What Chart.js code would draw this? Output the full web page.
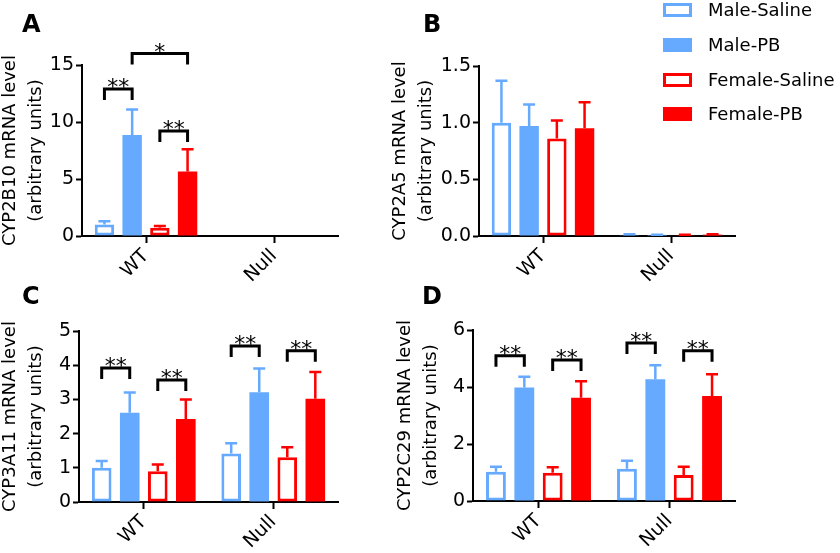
<!DOCTYPE html>
<html>
<head>
<meta charset="utf-8">
<script src="https://cdn.jsdelivr.net/npm/chart.js@4"></script>
<style>
body { margin:0; width:840px; height:553px; position:relative; overflow:hidden; background:#fff; font-family:"DejaVu Sans", sans-serif; color:#000; }
canvas { position:absolute; }
.letter { position:absolute; font:bold 24px/24px "DejaVu Sans", sans-serif; }
.item { position:absolute; left:663px; height:14px; white-space:nowrap; font:18px/18px "DejaVu Sans", sans-serif; }
.box { position:absolute; left:0; top:0; width:29px; height:14px; box-sizing:border-box; }
.item span { position:absolute; left:45px; top:-2px; }
</style>
</head>
<body>
<canvas id="chartA" width="400" height="300" style="left:-3px;top:0"></canvas>
<canvas id="chartB" width="453" height="300" style="left:387px;top:0"></canvas>
<canvas id="chartC" width="400" height="273" style="left:-3px;top:280px"></canvas>
<canvas id="chartD" width="448" height="273" style="left:392px;top:280px"></canvas>

<div class="letter" style="left:22px;top:12px">A</div>
<div class="letter" style="left:423px;top:12px">B</div>
<div class="letter" style="left:22px;top:284px">C</div>
<div class="letter" style="left:422px;top:284px">D</div>

<div class="item" style="top:3px"><div class="box" style="border:3px solid #66aaff;background:#fff"></div><span>Male-Saline</span></div>
<div class="item" style="top:38px"><div class="box" style="background:#66aaff"></div><span>Male-PB</span></div>
<div class="item" style="top:73px"><div class="box" style="border:3px solid #ff0000;background:#fff"></div><span>Female-Saline</span></div>
<div class="item" style="top:107px"><div class="box" style="background:#ff0000"></div><span>Female-PB</span></div>

<script>
Chart.defaults.font.family = '"DejaVu Sans", sans-serif';
Chart.defaults.color = '#000';

const groups = ['WT', 'Null'];
const seriesNames = ['Male-Saline', 'Male-PB', 'Female-Saline', 'Female-PB'];

// rows follow seriesNames, columns follow groups
const cyp2b10Mean = [[1.00, 0], [8.85, 0], [0.72, 0], [5.65, 0]];
const cyp2b10Sem  = [[0.30, 0], [2.25, 0], [0.15, 0], [1.95, 0]];
const cyp2b10Ticks = [0, 5, 10, 15];

const cyp2a5Mean = [[1.00, 0.012], [0.97, 0.010], [0.86, 0.008], [0.95, 0.012]];
const cyp2a5Sem  = [[0.37, 0.003], [0.19, 0.002], [0.16, 0.002], [0.23, 0.003]];
const cyp2a5Ticks = [0, 0.5, 1.0, 1.5];

const cyp3a11Mean = [[1.00, 1.42], [2.61, 3.21], [0.90, 1.31], [2.43, 3.02]];
const cyp3a11Sem  = [[0.20, 0.30], [0.59, 0.69], [0.20, 0.29], [0.57, 0.78]];
const cyp3a11Ticks = [0, 1, 2, 3, 4, 5];

const cyp2c29Mean = [[1.03, 1.13], [3.98, 4.27], [0.99, 0.91], [3.62, 3.68]];
const cyp2c29Sem  = [[0.17, 0.28], [0.38, 0.49], [0.19, 0.29], [0.58, 0.77]];
const cyp2c29Ticks = [0, 2, 4, 6];

// significance brackets: [group, from series, to series, level, label]
const cyp2b10Sig = [[0, 0, 1, 12.9, '**'], [0, 2, 3, 9.2, '**'], [0, 1, 3, 16.0, '*']];
const cyp2a5Sig = [];
const cyp3a11Sig = [[0, 0, 1, 3.92, '**'], [0, 2, 3, 3.57, '**'], [1, 0, 1, 4.56, '**'], [1, 2, 3, 4.42, '**']];
const cyp2c29Sig = [[0, 0, 1, 5.10, '**'], [0, 2, 3, 4.95, '**'], [1, 0, 1, 5.54, '**'], [1, 2, 3, 5.27, '**']];

const lineColors = ['#66aaff', '#66aaff', '#ff0000', '#ff0000'];
const fillColors = ['#ffffff', '#66aaff', '#ffffff', '#ff0000'];

const extras = {
  id: 'extras',
  afterDatasetsDraw(chart, args, opts) {
    const ctx = chart.ctx, y = chart.scales.y;
    ctx.save();
    ctx.lineWidth = 2.5;
    opts.sems.forEach((row, i) => {
      const meta = chart.getDatasetMeta(i);
      ctx.strokeStyle = lineColors[i];
      row.forEach((e, j) => {
        if (!e) return;
        const bar = meta.data[j];
        const top = y.getPixelForValue(opts.means[i][j] + e);
        ctx.beginPath();
        ctx.moveTo(bar.x, bar.y);
        ctx.lineTo(bar.x, top);
        ctx.moveTo(bar.x - 6, top);
        ctx.lineTo(bar.x + 6, top);
        ctx.stroke();
      });
    });
    ctx.strokeStyle = '#000';
    ctx.fillStyle = '#000';
    ctx.lineWidth = 3;
    ctx.font = '22px "DejaVu Sans", sans-serif';
    ctx.textAlign = 'center';
    opts.sig.forEach(([g, a, b, v, label]) => {
      const x1 = chart.getDatasetMeta(a).data[g].x;
      const x2 = chart.getDatasetMeta(b).data[g].x;
      const py = y.getPixelForValue(v);
      ctx.beginPath();
      ctx.moveTo(x1, py + 11);
      ctx.lineTo(x1, py);
      ctx.lineTo(x2, py);
      ctx.lineTo(x2, py + 11);
      ctx.stroke();
      ctx.fillText(label, (x1 + x2) / 2, py + 5);
    });
    ctx.restore();
  }
};

function panel(id, g, title, means, sems, sig, ticks, dec) {
  return new Chart(document.getElementById(id), {
    type: 'bar',
    data: {
      labels: groups,
      datasets: seriesNames.map((name, i) => ({
        label: name,
        data: means[i],
        backgroundColor: fillColors[i],
        borderColor: lineColors[i],
        borderWidth: i % 2 ? 0 : 3,
        borderSkipped: false,
        categoryPercentage: 0.866,
        barPercentage: 0.7
      }))
    },
    options: {
      responsive: false,
      animation: false,
      layout: { padding: { left: 0, top: g.top, right: g.right, bottom: 0 } },
      plugins: {
        legend: { display: false },
        tooltip: { enabled: false },
        extras: { means: means, sems: sems, sig: sig }
      },
      scales: {
        x: {
          z: 1,
          grid: { offset: false, drawOnChartArea: false, tickLength: 7, tickWidth: 2, tickColor: '#000' },
          border: { color: '#000', width: 2 },
          ticks: { maxRotation: 45, minRotation: 45, padding: 2, font: { size: 19 } },
          afterFit: s => { s.height = g.xh; }
        },
        y: {
          min: ticks[0],
          max: ticks[ticks.length - 1],
          grid: { drawOnChartArea: false, tickLength: 6, tickWidth: 2, tickColor: '#000' },
          border: { color: '#000', width: 2 },
          ticks: { stepSize: ticks[1] - ticks[0], padding: 2, font: { size: 19 }, callback: v => v.toFixed(dec) },
          title: { display: true, text: [title, '(arbitrary units)'], font: { size: 18, lineHeight: 1.45 }, padding: 0 },
          afterFit: s => { s.width = g.yw; }
        }
      }
    },
    plugins: [extras]
  });
}

panel('chartA', { top: 65, right: 59, xh: 64, yw: 85 }, 'CYP2B10 mRNA level', cyp2b10Mean, cyp2b10Sem, cyp2b10Sig, cyp2b10Ticks, 0);
panel('chartB', { top: 66, right: 105, xh: 64, yw: 92 }, 'CYP2A5 mRNA level', cyp2a5Mean, cyp2a5Sem, cyp2a5Sig, cyp2a5Ticks, 1);
panel('chartC', { top: 51, right: 59, xh: 51, yw: 82 }, 'CYP3A11 mRNA level', cyp3a11Mean, cyp3a11Sem, cyp3a11Sig, cyp3a11Ticks, 0);
panel('chartD', { top: 50, right: 105, xh: 52, yw: 81 }, 'CYP2C29 mRNA level', cyp2c29Mean, cyp2c29Sem, cyp2c29Sig, cyp2c29Ticks, 0);
</script>
</body>
</html>
